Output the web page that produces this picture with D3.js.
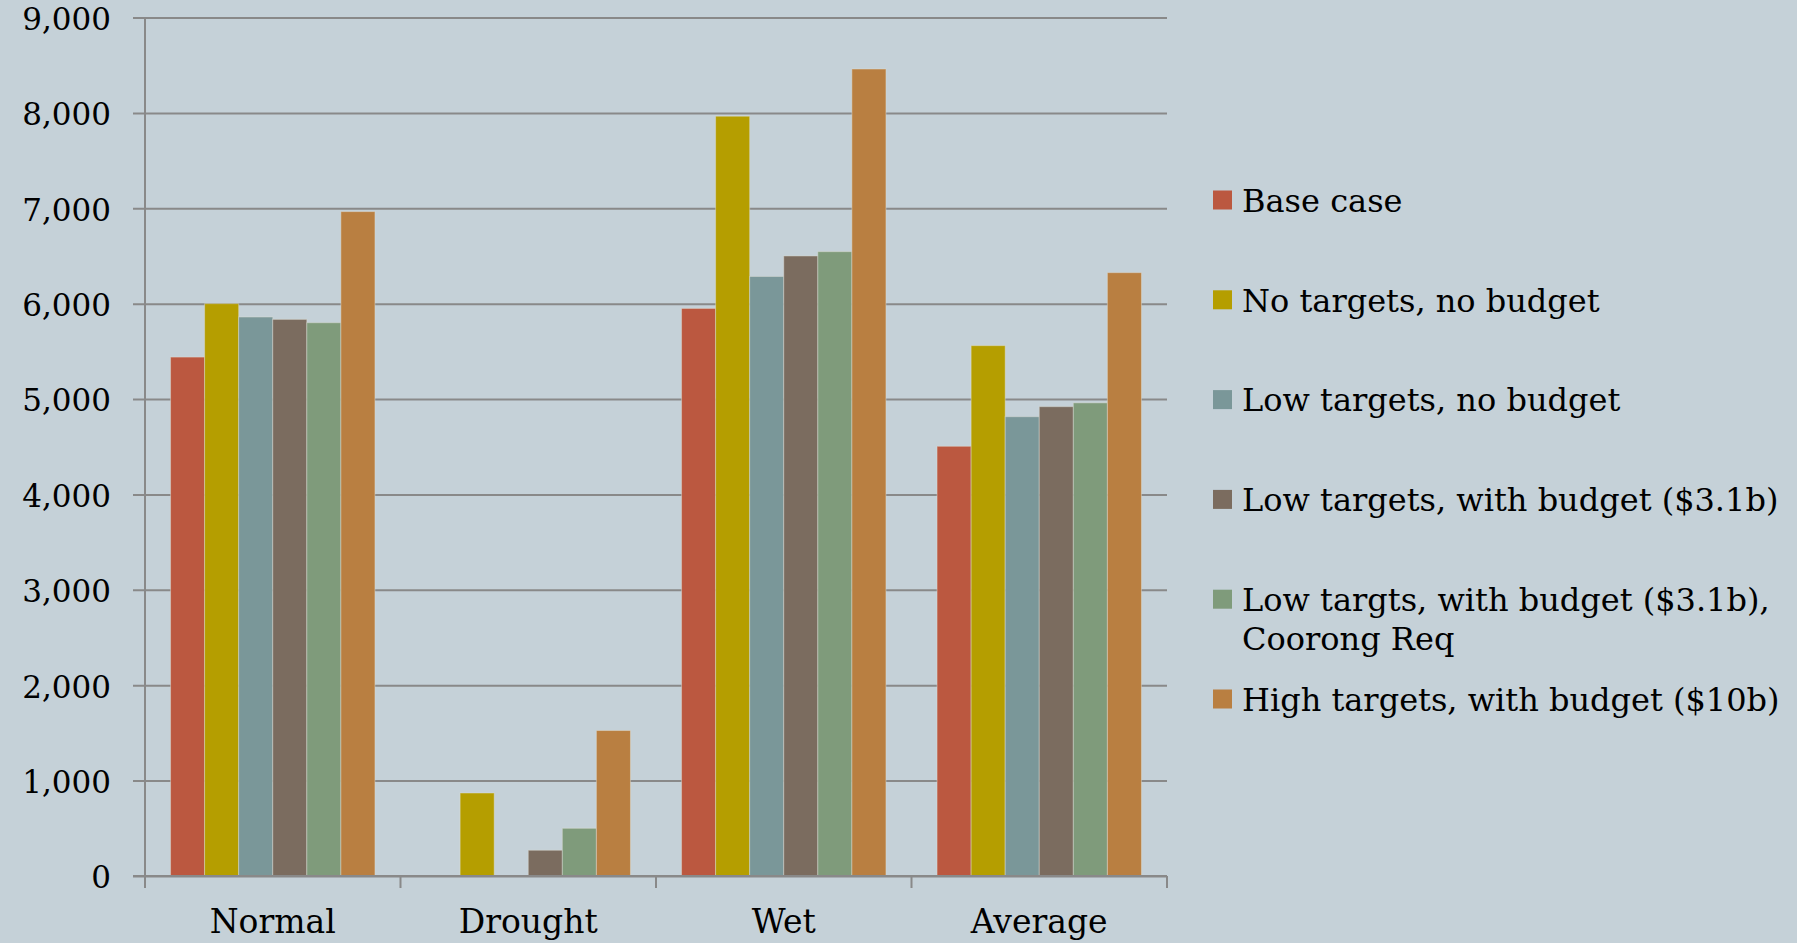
<!DOCTYPE html>
<html>
<head>
<meta charset="utf-8">
<script src="https://cdn.jsdelivr.net/npm/d3@7"></script>
<style>
  html, body { margin: 0; padding: 0; background: #c5d1d8; }
  svg { display: block; font-family: "DejaVu Serif", serif; }
</style>
</head>
<body>
<div id="chart"></div>
<script>
// categories and series
var categories = ["Normal", "Drought", "Wet", "Average"];
var seriesNames = [
  "Base case",
  "No targets, no budget",
  "Low targets, no budget",
  "Low targets, with budget ($3.1b)",
  "Low targts, with budget ($3.1b), Coorong Req",
  "High targets, with budget ($10b)"
];
var baseCase      = [5440,    0, 5950, 4505];
var noTargets     = [6000,  870, 7965, 5560];
var lowNoBudget   = [5860,    0, 6285, 4815];
var lowBudget     = [5835,  270, 6500, 4920];
var lowBudgetCoor = [5800,  500, 6545, 4960];
var highBudget    = [6965, 1525, 8460, 6325];
var yTicks = [0, 1000, 2000, 3000, 4000, 5000, 6000, 7000, 8000, 9000];

var seriesValues = [baseCase, noTargets, lowNoBudget, lowBudget, lowBudgetCoor, highBudget];
var colors = ["#bb5840", "#b59e00", "#7a9799", "#7b6c5f", "#7f9b7b", "#b97f41"];

// dimensions
var W = 1797, H = 943;
var margin = {top: 17.5, left: 145, right: 630, bottom: 67};
var width = W - margin.left - margin.right,
    height = H - margin.top - margin.bottom;

var svg = d3.select("#chart")
  .append("svg")
  .attr("width", W)
  .attr("height", H);

var g = svg.append("g")
  .attr("transform", "translate(" + margin.left + "," + margin.top + ")");

// scales
var x0 = d3.scaleBand()
  .domain(categories)
  .range([0, width])
  .padding(0);

// gap between groups = 1.5 bar widths
var x1 = d3.scaleBand()
  .domain(seriesNames)
  .range([x0.bandwidth() * 0.1, x0.bandwidth() * 0.9])
  .padding(0);

var y = d3.scaleLinear()
  .domain([0, 9000])
  .range([height, 0]);

// y axis with gridlines
var yAxis = g.append("g")
  .call(d3.axisLeft(y)
    .tickValues(yTicks)
    .tickFormat(d3.format(","))
    .tickSizeInner(-width)
    .tickSizeOuter(0)
    .tickPadding(34));

yAxis.select(".domain").remove();
yAxis.selectAll(".tick line")
  .attr("x1", -12)
  .attr("stroke", "#898989")
  .attr("stroke-width", 2);
yAxis.selectAll(".tick text")
  .attr("fill", "#000")
  .attr("dy", "0.38em")
  .style("font-size", "31px")
  .style("font-family", "DejaVu Serif");

// bars
var groups = g.selectAll(".cat")
  .data(categories)
  .enter()
  .append("g")
  .attr("transform", function(d) { return "translate(" + x0(d) + ",0)"; });

groups.selectAll("rect")
  .data(function(d, ci) {
    return seriesNames.map(function(s, si) {
      return {series: s, value: seriesValues[si][ci], color: colors[si]};
    });
  })
  .enter()
  .append("rect")
  .filter(function(d) { return d.value > 0; })
  .attr("x", function(d) { return x1(d.series); })
  .attr("y", function(d) { return y(d.value); })
  .attr("width", x1.bandwidth())
  .attr("height", function(d) { return y(0) - y(d.value); })
  .attr("fill", function(d) { return d.color; })
  .attr("stroke", "rgba(225,225,215,0.45)")
  .attr("stroke-width", 1);

// x axis line + boundary ticks
g.append("line")
  .attr("x1", -12).attr("x2", width)
  .attr("y1", y(0)).attr("y2", y(0))
  .attr("stroke", "#898989").attr("stroke-width", 2);

g.append("line")
  .attr("x1", 0).attr("x2", 0)
  .attr("y1", 0).attr("y2", height + 12)
  .attr("stroke", "#898989").attr("stroke-width", 2);

var bounds = categories.map(function(c) { return x0(c); }).concat([width]);
g.selectAll(".btick")
  .data(bounds)
  .enter()
  .append("line")
  .attr("x1", function(d) { return d; })
  .attr("x2", function(d) { return d; })
  .attr("y1", height)
  .attr("y2", height + 12)
  .attr("stroke", "#898989")
  .attr("stroke-width", 2);

// category labels
var xAxis = g.append("g")
  .attr("transform", "translate(0," + height + ")")
  .call(d3.axisBottom(x0).tickSize(0).tickPadding(34));
xAxis.select(".domain").remove();
xAxis.selectAll(".tick text")
  .attr("fill", "#000")
  .style("font-size", "33px")
  .style("font-family", "DejaVu Serif");

// legend
var legend = svg.append("g")
  .attr("transform", "translate(1213,0)");

var items = legend.selectAll(".item")
  .data(seriesNames)
  .enter()
  .append("g")
  .attr("transform", function(d, i) { return "translate(0," + (200 + i * 99.8) + ")"; });

items.append("rect")
  .attr("x", 0)
  .attr("y", -9.5)
  .attr("width", 19)
  .attr("height", 19)
  .attr("fill", function(d, i) { return colors[i]; });

items.append("text")
  .attr("x", 29)
  .attr("y", 11.7)
  .attr("fill", "#000")
  .style("font-size", "32px")
  .each(function(d) {
    var t = d3.select(this);
    if (d.indexOf("Coorong") >= 0) {
      t.append("tspan").attr("x", 29).text("Low targts, with budget ($3.1b),");
      t.append("tspan").attr("x", 29).attr("dy", 39).text("Coorong Req");
    } else {
      t.text(d);
    }
  });
</script>
</body>
</html>
